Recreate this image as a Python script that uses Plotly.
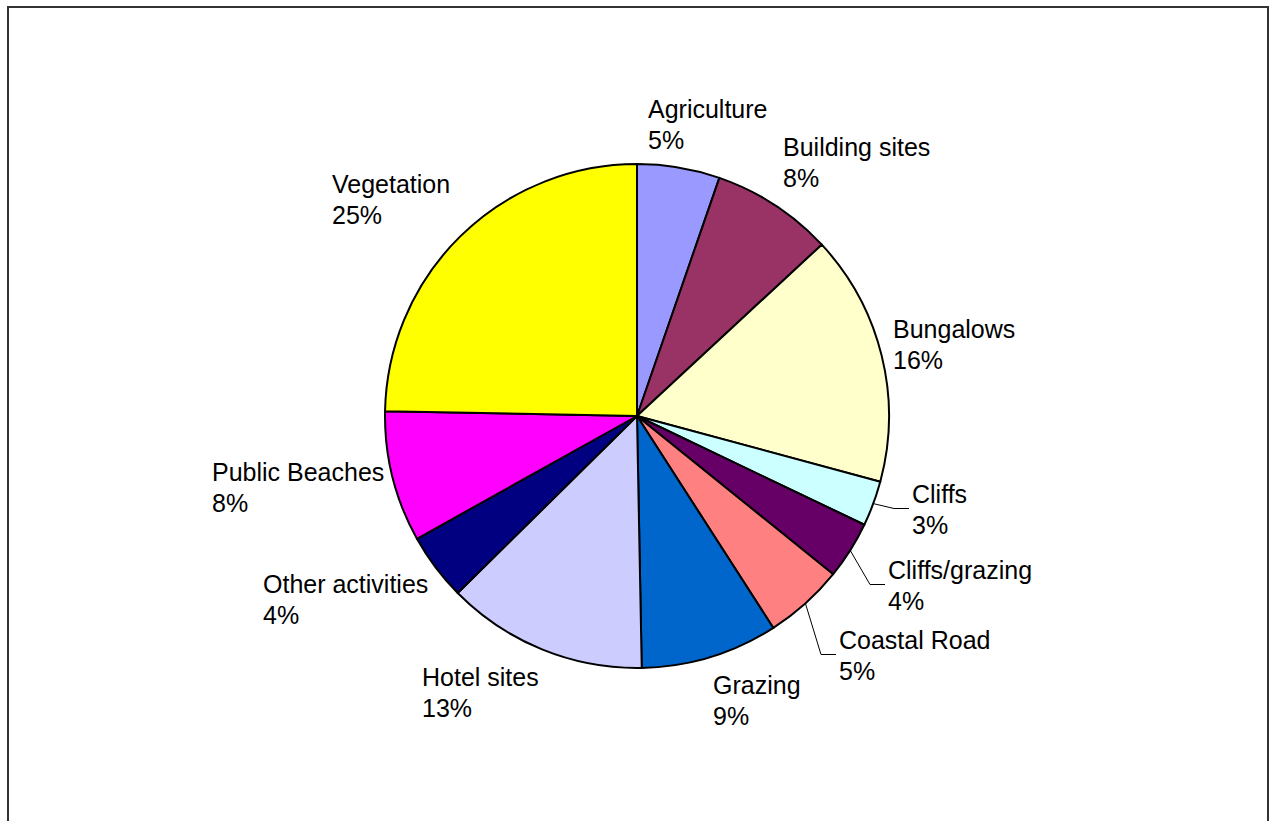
import math
import plotly.graph_objects as go

# ---- data ----
categories = ["Agriculture", "Building sites", "Bungalows", "Cliffs", "Cliffs/grazing",
              "Coastal Road", "Grazing", "Hotel sites", "Other activities",
              "Public Beaches", "Vegetation"]
values = [5.3, 7.8, 16.1, 2.9, 3.7, 5.1, 8.8, 12.9, 4.3, 8.4, 24.7]

# ---- styles ----
colors = ["#9999FF", "#993366", "#FFFFCC", "#CCFFFF", "#660066", "#FF8080",
          "#0066CC", "#CCCCFF", "#000080", "#FF00FF", "#FFFF00"]
W, H = 1270, 821
CX, CY, R = 637, 416, 252           # pie centre / radius in pixels
FSIZE = 25
FONT = dict(family="Liberation Sans, Arial, sans-serif", size=FSIZE, color="#000000")
# label block placement (left x, first-line baseline y) in pixels
label_pos = [(648, 117), (783, 155), (893, 337), (912, 502), (888, 578),
             (839, 648), (713, 693), (422, 685), (263, 592), (212, 480), (332, 192)]
leader = [False, False, False, True, True, True, False, False, False, False, False]
LINE_H = 31
ASC = 0.905 * FSIZE + 1

def px(x):
    return x / W

def py(y):
    return 1 - y / H

fig = go.Figure(go.Pie(
    labels=categories, values=values, sort=False, direction="clockwise", rotation=0,
    marker=dict(colors=colors, line=dict(color="#000000", width=2)),
    textinfo="none", hoverinfo="label+percent", showlegend=False,
    domain=dict(x=[px(CX - R), px(CX + R)], y=[py(CY + R), py(CY - R)]),
))

total = sum(values)
annotations = []
shapes = []
cum = 0.0
for name, v, (lx, base), has_leader in zip(categories, values, label_pos, leader):
    pct = round(v / total * 100)
    for i, line in enumerate([name, f"{pct}%"]):
        annotations.append(dict(
            text=line, x=px(lx - 2), y=py(base + i * LINE_H - ASC), xref="paper", yref="paper",
            xanchor="left", yanchor="top", align="left", showarrow=False, font=FONT,
        ))
    mid = (cum + v / 2) / total * 2 * math.pi
    cum += v
    if has_leader:
        sx = CX + R * math.sin(mid)
        sy = CY - R * math.cos(mid)
        cap_top = base - 19
        mid_y = cap_top + (LINE_H + 19) / 2 + 0.5
        ex = lx - 18
        path = (f"M {px(sx)} {py(sy)} L {px(ex)} {py(mid_y)} L {px(lx - 3)} {py(mid_y)}")
        shapes.append(dict(type="path", path=path, xref="paper", yref="paper",
                           line=dict(color="#000000", width=1)))

# outer frame
shapes.append(dict(type="rect", xref="paper", yref="paper",
                   x0=px(8), x1=px(1268), y0=-0.05, y1=py(7),
                   line=dict(color="#333333", width=2)))

fig.update_layout(
    width=W, height=H, margin=dict(l=0, r=0, t=0, b=0),
    paper_bgcolor="#FFFFFF", plot_bgcolor="#FFFFFF",
    annotations=annotations, shapes=shapes,
)
fig.write_html("out.html")
